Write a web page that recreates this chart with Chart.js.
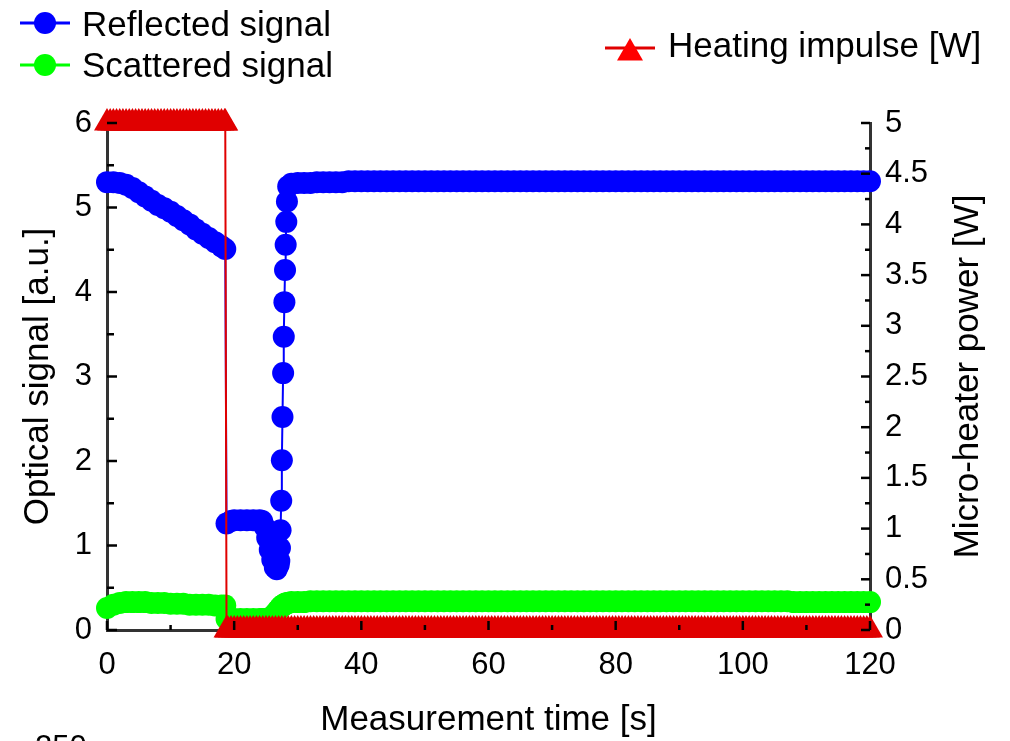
<!DOCTYPE html>
<html>
<head>
<meta charset="utf-8">
<title>Optical signal vs heating impulse</title>
<script src="https://cdn.jsdelivr.net/npm/chart.js@4.4.1/dist/chart.umd.min.js"></script>
<style>
  html, body { margin: 0; padding: 0; background: #fff; }
  #wrap { width: 1010px; height: 741px; }
</style>
</head>
<body>
<div id="wrap"><canvas id="signals" width="1010" height="741"></canvas></div>
<script>
/**
 *  Optical signal (reflected / scattered) during a micro-heater impulse
 */
Chart.defaults.color = '#000'
Chart.defaults.font.family = '"Liberation Sans", Arial, sans-serif'

// measurement time [s] of the optical signals
const time = [
  0, 1, 2, 3, 4, 5, 6, 7, 8, 9,
  10, 11, 12, 13, 14, 15, 16, 17, 18,
  18.6, 18.8, 19.5, 20, 21, 22, 23, 24,
  24.4, 24.8, 25.2, 25.6, 26, 26.4, 26.7, 27,
  27.1, 27.2, 27.3, 27.4, 27.5, 27.6, 27.7, 27.8,
  27.9, 28, 28.1, 28.2, 28.3, 28.5, 29,
  30, 31, 32, 33, 34, 35, 36, 37, 38, 39,
  40, 41, 42, 43, 44, 45, 46, 47, 48, 49,
  50, 51, 52, 53, 54, 55, 56, 57, 58, 59,
  60, 61, 62, 63, 64, 65, 66, 67, 68, 69,
  70, 71, 72, 73, 74, 75, 76, 77, 78, 79,
  80, 81, 82, 83, 84, 85, 86, 87, 88, 89,
  90, 91, 92, 93, 94, 95, 96, 97, 98, 99,
  100, 101, 102, 103, 104, 105, 106, 107, 108, 109,
  110, 111, 112, 113, 114, 115, 116, 117, 118, 119,
  120
]
// reflected signal [a.u.]
const reflected = [
  5.30, 5.30, 5.29, 5.27, 5.23, 5.18, 5.13, 5.08, 5.03, 4.99,
  4.95, 4.90, 4.85, 4.80, 4.74, 4.69, 4.64, 4.59, 4.54,
  4.51, 1.26, 1.29, 1.30, 1.30, 1.30, 1.30, 1.30,
  1.29, 1.22, 1.09, 0.95, 0.83, 0.74, 0.72, 0.77,
  0.82, 0.97, 1.18, 1.53, 2.01, 2.52, 3.04, 3.47,
  3.88, 4.26, 4.56, 4.83, 5.07, 5.25, 5.28,
  5.29, 5.29, 5.29, 5.30, 5.30, 5.30, 5.30, 5.30, 5.31, 5.31,
  5.31, 5.31, 5.31, 5.31, 5.31, 5.31, 5.31, 5.31, 5.31, 5.31,
  5.31, 5.31, 5.31, 5.31, 5.31, 5.31, 5.31, 5.31, 5.31, 5.31,
  5.31, 5.31, 5.31, 5.31, 5.31, 5.31, 5.31, 5.31, 5.31, 5.31,
  5.31, 5.31, 5.31, 5.31, 5.31, 5.31, 5.31, 5.31, 5.31, 5.31,
  5.31, 5.31, 5.31, 5.31, 5.31, 5.31, 5.31, 5.31, 5.31, 5.31,
  5.31, 5.31, 5.31, 5.31, 5.31, 5.31, 5.31, 5.31, 5.31, 5.31,
  5.31, 5.31, 5.31, 5.31, 5.31, 5.31, 5.31, 5.31, 5.31, 5.31,
  5.31, 5.31, 5.31, 5.31, 5.31, 5.31, 5.31, 5.31, 5.31, 5.31,
  5.31
]
// scattered signal [a.u.]
const scattered = [
  0.26, 0.30, 0.32, 0.33, 0.33, 0.33, 0.33, 0.32, 0.32, 0.32,
  0.31, 0.31, 0.31, 0.30, 0.30, 0.30, 0.30, 0.29, 0.29,
  0.29, 0.13, 0.13, 0.13, 0.13, 0.13, 0.13, 0.13,
  0.13, 0.13, 0.13, 0.14, 0.16, 0.19, 0.22, 0.24,
  0.25, 0.26, 0.27, 0.28, 0.28, 0.29, 0.29, 0.30,
  0.30, 0.31, 0.31, 0.31, 0.32, 0.32, 0.33,
  0.33, 0.33, 0.34, 0.34, 0.34, 0.34, 0.34, 0.34, 0.34, 0.34,
  0.34, 0.34, 0.34, 0.34, 0.34, 0.34, 0.34, 0.34, 0.34, 0.34,
  0.34, 0.34, 0.34, 0.34, 0.34, 0.34, 0.34, 0.34, 0.34, 0.34,
  0.34, 0.34, 0.34, 0.34, 0.34, 0.34, 0.34, 0.34, 0.34, 0.34,
  0.34, 0.34, 0.34, 0.34, 0.34, 0.34, 0.34, 0.34, 0.34, 0.34,
  0.34, 0.34, 0.34, 0.34, 0.34, 0.34, 0.34, 0.34, 0.34, 0.34,
  0.34, 0.34, 0.34, 0.34, 0.34, 0.34, 0.34, 0.34, 0.34, 0.34,
  0.34, 0.34, 0.34, 0.34, 0.34, 0.34, 0.34, 0.34, 0.33, 0.33,
  0.33, 0.33, 0.33, 0.33, 0.33, 0.33, 0.33, 0.33, 0.33, 0.33,
  0.33
]

// heating impulse is logged more often: its own time base [s]
const heatTime = [
  0, 0.5, 1, 1.5, 2, 2.5, 3, 3.5, 4, 4.5, 5, 5.5, 6, 6.5, 7, 7.5, 8, 8.5, 9, 9.5,
  10, 10.5, 11, 11.5, 12, 12.5, 13, 13.5, 14, 14.5, 15, 15.5, 16, 16.5, 17, 17.5, 18, 18.5, 18.6, 18.8, 19, 19.5,
  20, 20.5, 21, 21.5, 22, 22.5, 23, 23.5, 24, 24.5, 25, 25.5, 26, 26.5, 27, 27.5, 28, 28.5, 29, 29.5,
  30, 30.5, 31, 31.5, 32, 32.5, 33, 33.5, 34, 34.5, 35, 35.5, 36, 36.5, 37, 37.5, 38, 38.5, 39, 39.5,
  40, 40.5, 41, 41.5, 42, 42.5, 43, 43.5, 44, 44.5, 45, 45.5, 46, 46.5, 47, 47.5, 48, 48.5, 49, 49.5,
  50, 50.5, 51, 51.5, 52, 52.5, 53, 53.5, 54, 54.5, 55, 55.5, 56, 56.5, 57, 57.5, 58, 58.5, 59, 59.5,
  60, 60.5, 61, 61.5, 62, 62.5, 63, 63.5, 64, 64.5, 65, 65.5, 66, 66.5, 67, 67.5, 68, 68.5, 69, 69.5,
  70, 70.5, 71, 71.5, 72, 72.5, 73, 73.5, 74, 74.5, 75, 75.5, 76, 76.5, 77, 77.5, 78, 78.5, 79, 79.5,
  80, 80.5, 81, 81.5, 82, 82.5, 83, 83.5, 84, 84.5, 85, 85.5, 86, 86.5, 87, 87.5, 88, 88.5, 89, 89.5,
  90, 90.5, 91, 91.5, 92, 92.5, 93, 93.5, 94, 94.5, 95, 95.5, 96, 96.5, 97, 97.5, 98, 98.5, 99, 99.5,
  100, 100.5, 101, 101.5, 102, 102.5, 103, 103.5, 104, 104.5, 105, 105.5, 106, 106.5, 107, 107.5, 108, 108.5, 109, 109.5,
  110, 110.5, 111, 111.5, 112, 112.5, 113, 113.5, 114, 114.5, 115, 115.5, 116, 116.5, 117, 117.5, 118, 118.5, 119, 119.5,
  120
]
// heating impulse [W]
const heating = [
  5, 5, 5, 5, 5, 5, 5, 5, 5, 5, 5, 5, 5, 5, 5, 5, 5, 5, 5, 5,
  5, 5, 5, 5, 5, 5, 5, 5, 5, 5, 5, 5, 5, 5, 5, 5, 5, 5, 5, 0, 0, 0,
  0, 0, 0, 0, 0, 0, 0, 0, 0, 0, 0, 0, 0, 0, 0, 0, 0, 0, 0, 0,
  0, 0, 0, 0, 0, 0, 0, 0, 0, 0, 0, 0, 0, 0, 0, 0, 0, 0, 0, 0,
  0, 0, 0, 0, 0, 0, 0, 0, 0, 0, 0, 0, 0, 0, 0, 0, 0, 0, 0, 0,
  0, 0, 0, 0, 0, 0, 0, 0, 0, 0, 0, 0, 0, 0, 0, 0, 0, 0, 0, 0,
  0, 0, 0, 0, 0, 0, 0, 0, 0, 0, 0, 0, 0, 0, 0, 0, 0, 0, 0, 0,
  0, 0, 0, 0, 0, 0, 0, 0, 0, 0, 0, 0, 0, 0, 0, 0, 0, 0, 0, 0,
  0, 0, 0, 0, 0, 0, 0, 0, 0, 0, 0, 0, 0, 0, 0, 0, 0, 0, 0, 0,
  0, 0, 0, 0, 0, 0, 0, 0, 0, 0, 0, 0, 0, 0, 0, 0, 0, 0, 0, 0,
  0, 0, 0, 0, 0, 0, 0, 0, 0, 0, 0, 0, 0, 0, 0, 0, 0, 0, 0, 0,
  0, 0, 0, 0, 0, 0, 0, 0, 0, 0, 0, 0, 0, 0, 0, 0, 0, 0, 0, 0,
  0
]

const xTicks = [0, 20, 40, 60, 80, 100, 120]
const yTicks = [0, 1, 2, 3, 4, 5, 6]
const y1Ticks = [0, 0.5, 1, 1.5, 2, 2.5, 3, 3.5, 4, 4.5, 5]

const pairs = (xs, vals) => xs.map((t, i) => ({x: t, y: vals[i]}))
const setTicks = (list) => (scale) => { scale.ticks = list.map(v => ({value: v})) }

const txtFont = '35px "Liberation Sans", Arial, sans-serif'

// inward major/minor ticks, legend and right-hand title
const decor = {
    id: 'decor',
    afterDraw(chart) {
        const {ctx, chartArea: a, scales} = chart
        ctx.save()
        ctx.strokeStyle = '#000'
        ctx.lineWidth = 2.5
        const mark = (x1, y1, x2, y2) => { ctx.beginPath(); ctx.moveTo(x1, y1); ctx.lineTo(x2, y2); ctx.stroke() }

        xTicks.forEach((v, i) => {
            const p = scales.x.getPixelForValue(v)
            mark(p, a.bottom, p, a.bottom - 9)
            if (i < xTicks.length - 1) {
                const m = scales.x.getPixelForValue((v + xTicks[i + 1]) / 2)
                mark(m, a.bottom, m, a.bottom - 5)
            }
        })
        yTicks.forEach((v, i) => {
            const p = scales.y.getPixelForValue(v)
            mark(a.left, p, a.left + 10, p)
            if (i < yTicks.length - 1) {
                const m = scales.y.getPixelForValue((v + yTicks[i + 1]) / 2)
                mark(a.left, m, a.left + 7, m)
            }
        })
        y1Ticks.forEach((v, i) => {
            const p = scales.y1.getPixelForValue(v)
            mark(a.right, p, a.right - 9, p)
            if (i < y1Ticks.length - 1) {
                const m = scales.y1.getPixelForValue((v + y1Ticks[i + 1]) / 2)
                mark(a.right, m, a.right - 5, m)
            }
        })

        // legend
        ctx.lineWidth = 3
        const legendLine = (x1, x2, y, col) => { ctx.strokeStyle = col; mark(x1, y, x2, y) }
        const dot = (x, y, col) => { ctx.fillStyle = col; ctx.beginPath(); ctx.arc(x, y, 11, 0, Math.PI * 2); ctx.fill() }
        legendLine(20, 70, 23, '#0000ff'); dot(45, 23, '#0000ff')
        legendLine(20, 70, 65, '#00ff00'); dot(45, 65, '#00ff00')
        legendLine(605, 655, 48, '#e00000')
        ctx.fillStyle = '#ff0000'
        ctx.beginPath()
        ctx.moveTo(630, 38)
        ctx.lineTo(643, 60.5)
        ctx.lineTo(617, 60.5)
        ctx.closePath()
        ctx.fill()

        ctx.fillStyle = '#000'
        ctx.font = txtFont
        ctx.textAlign = 'left'
        ctx.textBaseline = 'alphabetic'
        ctx.fillText('Reflected signal', 82, 36)
        ctx.fillText('Scattered signal', 82, 77)
        ctx.fillText('Heating impulse [W]', 668, 57)
        // cut-off label of the panel below
        ctx.font = '31px "Liberation Sans", Arial, sans-serif'
        ctx.fillText('250', 35, 757)

        ctx.font = txtFont
        ctx.translate(968, (a.top + a.bottom) / 2)
        ctx.rotate(-Math.PI / 2)
        ctx.textAlign = 'center'
        ctx.textBaseline = 'middle'
        ctx.fillText('Micro-heater power [W]', 0, 0)
        ctx.restore()
    }
}

const canvas = document.getElementById('signals')
new Chart(canvas, {
    type: 'line',
    data: {
        datasets: [
            {
                label: 'Heating impulse [W]',
                data: pairs(heatTime, heating),
                yAxisID: 'y1',
                order: 0,
                borderColor: '#e00000',
                borderWidth: 2,
                pointStyle: 'triangle',
                pointRadius: 15,
                pointHoverRadius: 15,
                pointBorderWidth: 0,
                pointBackgroundColor: '#e00000',
                clip: false
            },
            {
                label: 'Reflected signal',
                data: pairs(time, reflected),
                yAxisID: 'y',
                order: 1,
                borderColor: '#0000ff',
                borderWidth: 2,
                pointRadius: 11,
                pointHoverRadius: 11,
                pointBorderWidth: 0,
                pointBackgroundColor: '#0000ff',
                clip: false
            },
            {
                label: 'Scattered signal',
                data: pairs(time, scattered),
                yAxisID: 'y',
                order: 2,
                borderColor: '#00ff00',
                borderWidth: 2,
                pointRadius: 11,
                pointHoverRadius: 11,
                pointBorderWidth: 0,
                pointBackgroundColor: '#00ff00',
                clip: false
            }
        ]
    },
    options: {
        responsive: false,
        animation: false,
        layout: { padding: { top: 123, left: 0, right: 0, bottom: 0 } },
        plugins: {
            legend: { display: false },
            tooltip: { enabled: false }
        },
        scales: {
            x: {
                type: 'linear',
                min: 0,
                max: 120,
                z: 1,
                afterBuildTicks: setTicks(xTicks),
                afterFit: (s) => { s.height = 111 },
                grid: { display: false, drawTicks: false },
                border: { display: true, color: '#333', width: 3 },
                ticks: { font: { size: 31 }, padding: 17, maxRotation: 0, callback: v => String(v) },
                title: { display: true, text: 'Measurement time [s]', font: { size: 35 }, padding: { top: 0, bottom: 0 } }
            },
            y: {
                position: 'left',
                min: 0,
                max: 6,
                z: 1,
                afterBuildTicks: setTicks(yTicks),
                afterFit: (s) => { s.width = 107 },
                grid: { display: false, drawTicks: false },
                border: { display: true, color: '#333', width: 3 },
                ticks: { font: { size: 31 }, padding: 15, callback: v => String(v) },
                title: { display: true, text: 'Optical signal [a.u.]', font: { size: 35 }, padding: { top: 17, bottom: 0 } }
            },
            y1: {
                position: 'right',
                min: 0,
                max: 5,
                z: 1,
                afterBuildTicks: setTicks(y1Ticks),
                afterFit: (s) => { s.width = 140 },
                grid: { display: false, drawTicks: false },
                border: { display: true, color: '#333', width: 3 },
                ticks: { font: { size: 31 }, padding: 15, callback: v => String(v) }
            }
        }
    },
    plugins: [decor]
})
</script>
</body>
</html>
